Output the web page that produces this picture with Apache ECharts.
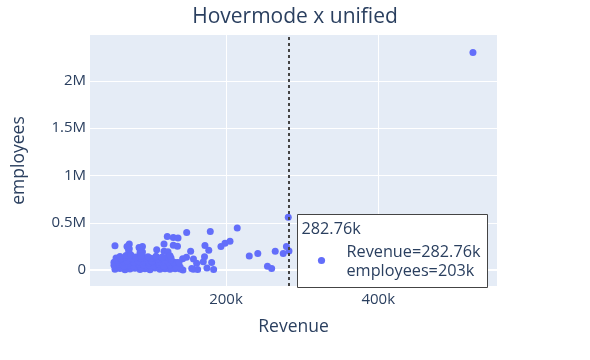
<!DOCTYPE html>
<html><head><meta charset="utf-8">
<script src="https://cdn.jsdelivr.net/npm/echarts@6/dist/echarts.min.js"></script>
<style>html,body{margin:0;padding:0;background:#fff}#c{width:590px;height:360px}</style>
</head><body><div id="c"></div>
<script>
// values in thousands
const revenue = [
  524.4, 281.8, 279.4, 282.76, 275.2, 264.7, 260.0, 254.5, 241.8, 230.6,
  214.8, 205.3, 198.7, 193.4, 179.4, 148.4, 172.4, 177.4, 171.8, 181.2,
  175.0, 183.8, 153.6, 148.1, 143.1, 157.3, 161.5, 170.2, 157.1, 162.8,
  143.5, 155.0, 136.0, 122.9, 130.8, 137.0, 118.6, 130.8, 136.3, 118.6,
  123.8, 109.0, 90.3, 90.3, 73.0, 54.2, 72.0, 72.6, 73.0, 87.1, 87.1, 70.0, 85.8,
  54.2, 60.8, 67.4, 73.9, 80.5, 87.1, 93.6, 100.2, 106.8, 113.3, 119.9, 126.5, 133.2, 139.8,
  55.6, 62.1, 68.7, 75.2, 81.8, 88.4, 94.9, 101.5, 108.1, 114.6, 121.2, 127.8, 134.5, 139.8,
  52.9, 59.5, 66.1, 72.6, 79.2, 85.8, 92.3, 98.9, 105.4, 112.0, 118.6, 126.5,
  52.9, 59.5, 66.1, 72.6, 79.2, 85.8, 92.3, 98.9, 105.4, 112.0, 118.6, 125.1, 131.7, 138.3,
  56.9, 63.4, 70.0, 77.9, 84.4, 93.6, 102.8, 110.7, 119.9, 127.8,
  55.6, 62.1, 68.7, 75.2, 81.8, 88.4, 94.9, 101.5, 108.1, 114.6, 121.2, 127.8,
  60.8, 68.7, 75.2, 81.8, 88.4, 97.6, 108.1, 116.0, 126.5
];
const employees = [
  2300, 560, 250, 203, 176, 199, 17, 42, 176, 150,
  445, 305, 286, 250, 409, 398, 260, 210, 141, 80,
  24, 8, 201, 136, 120, 118, 74, 88, 11, 8,
  3, 17, 81, 355, 346, 339, 276, 263, 254, 199,
  194, 215, 250, 191, 276, 258, 215, 183, 226, 226, 183, 250, 240,
  10, 18, 5, 12, 20, 8, 15, 6, 22, 11, 14, 9, 16, 12,
  35, 30, 38, 28, 36, 32, 40, 33, 29, 37, 31, 35, 30, 34,
  52, 60, 45, 58, 40, 62, 50, 55, 48, 64, 42, 58,
  83, 80, 86, 78, 85, 82, 88, 79, 84, 81, 87, 80, 85, 78,
  105, 112, 98, 116, 100, 108, 95, 114, 102, 110,
  130, 126, 134, 128, 132, 125, 131, 127, 133, 129, 135, 128,
  145, 155, 160, 140, 150, 142, 148, 138, 152
];
const xTickValues = [200, 400];
const xTickLabels = ['200k', '400k'];
const yTickValues = [0, 500, 1000, 1500, 2000];
const yTickLabels = ['0', '0.5M', '1M', '1.5M', '2M'];
const hoverRevenue = 282.76;
const hoverEmployees = 203;
const hoverHeader = '282.76k';
const hoverLines = ['Revenue=282.76k', 'employees=203k'];

const FONT = '"Open Sans", sans-serif';
const TXT = '#2a3f5f';
const points = revenue.map((r, i) => [r, employees[i]]);

const chart = echarts.init(document.getElementById('c'), null, {renderer: 'canvas'});
chart.setOption({
  animation: false,
  backgroundColor: '#fff',
  title: {
    text: 'Hovermode x unified', left: 'center', top: 2,
    textStyle: {fontFamily: FONT, fontSize: 21, fontWeight: 'normal', color: TXT}
  },
  grid: {left: 90, right: 93, top: 35, bottom: 74, show: true, backgroundColor: '#E5ECF6', borderWidth: 0},
  xAxis: {
    type: 'value', min: 21.4, max: 556,
    name: 'Revenue', nameLocation: 'middle', nameGap: 32,
    nameTextStyle: {fontFamily: FONT, fontSize: 17.5, color: TXT},
    axisLine: {show: false},
    axisTick: {show: false, customValues: xTickValues},
    axisLabel: {
      customValues: xTickValues, margin: 6,
      fontFamily: FONT, fontSize: 15, color: TXT,
      formatter: v => xTickLabels[xTickValues.indexOf(v)]
    },
    splitLine: {show: true, lineStyle: {color: '#fff', width: 1}}
  },
  yAxis: {
    type: 'value', min: -167, max: 2485,
    name: 'employees', nameLocation: 'middle', nameGap: 62,
    nameTextStyle: {fontFamily: FONT, fontSize: 17.5, color: TXT},
    axisLine: {show: false},
    axisTick: {show: false, customValues: yTickValues},
    axisLabel: {
      customValues: yTickValues, margin: 4,
      fontFamily: FONT, fontSize: 15, color: TXT,
      formatter: v => yTickLabels[yTickValues.indexOf(v)]
    },
    splitLine: {show: true, lineStyle: {color: '#fff', width: 1}}
  },
  series: [
    {
      type: 'line', data: [], z: 1, silent: true,
      markLine: {
        silent: true, symbol: 'none', label: {show: false}, animation: false, z: 0.5,
        lineStyle: {color: '#fff', width: 2, type: 'solid'},
        data: [{yAxis: 0}]
      }
    },
    {
      type: 'scatter', data: points, z: 2,
      symbol: 'circle', symbolSize: 7,
      itemStyle: {color: '#636efa', opacity: 1}
    },
    {
      type: 'line', data: [], z: 3, silent: true,
      markLine: {
        silent: true, symbol: 'none', label: {show: false}, animation: false, z: 6,
        lineStyle: {color: '#444', width: 2, type: [3, 3]},
        data: [{xAxis: hoverRevenue}]
      }
    }
  ]
});

const hp = chart.convertToPixel({xAxisIndex: 0, yAxisIndex: 0}, [hoverRevenue, hoverEmployees]);
const boxX = Math.round(hp[0]) + 8.5;
const boxY = 214.5;
chart.setOption({
  graphic: [
    {type: 'rect', z: 100, shape: {x: boxX, y: boxY, width: 190, height: 73},
     style: {fill: '#fff', stroke: '#444', lineWidth: 1}},
    {type: 'text', z: 101, x: boxX + 4, y: boxY + 15,
     style: {text: hoverHeader, font: '16.25px ' + FONT, fill: TXT, verticalAlign: 'middle'}},
    {type: 'circle', z: 101, shape: {cx: boxX + 24, cy: boxY + 46, r: 3.6},
     style: {fill: '#636efa'}},
    {type: 'text', z: 101, x: boxX + 49, y: boxY + 37.5,
     style: {text: hoverLines[0], font: '16.25px ' + FONT, fill: TXT, verticalAlign: 'middle'}},
    {type: 'text', z: 101, x: boxX + 49, y: boxY + 56.5,
     style: {text: hoverLines[1], font: '16.25px ' + FONT, fill: TXT, verticalAlign: 'middle'}}
  ]
});
</script>
</body></html>
